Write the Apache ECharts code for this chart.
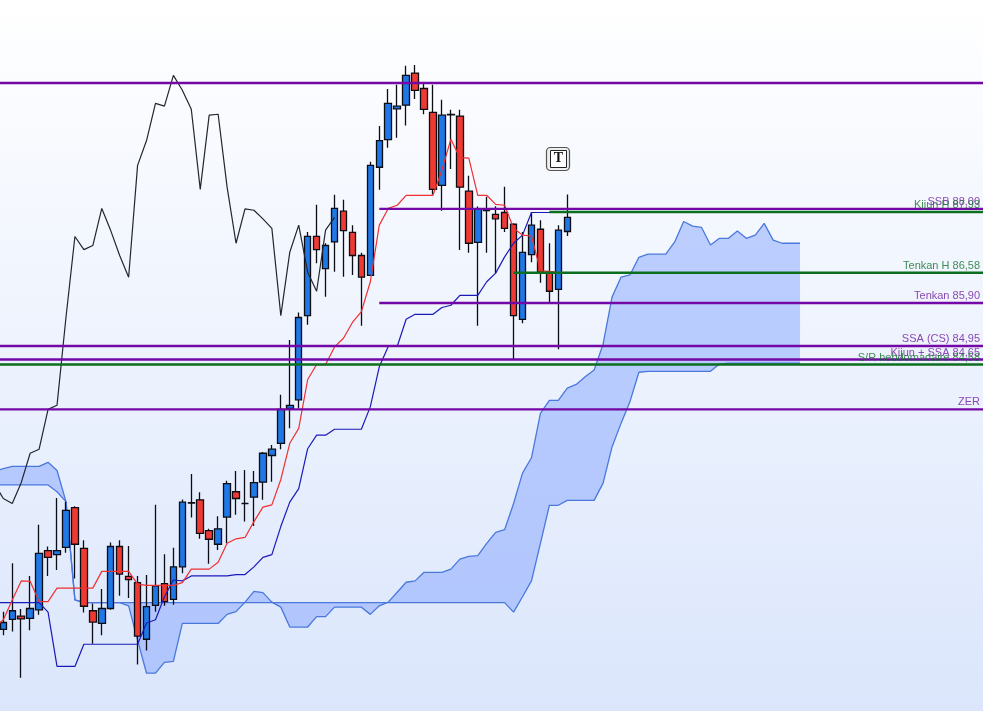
<!DOCTYPE html>
<html><head><meta charset="utf-8">
<script src="https://cdn.jsdelivr.net/npm/echarts@6/dist/echarts.min.js"></script>
<style>html,body{margin:0;padding:0;background:#fff}#c{width:983px;height:711px}</style>
</head><body><div id="c"></div>
<script>
// candles: open, close, low, high  (bar 0 .. 63)
const candles = [
[78.69,78.84,78.56,79.08],[78.91,79.10,78.64,80.15],[78.98,78.92,77.62,79.14],[78.93,79.15,78.67,79.87],
[79.12,80.37,79.01,81.00],[80.43,80.28,79.87,80.52],[80.34,80.43,80.00,81.59],[80.50,81.32,80.38,81.51],
[81.38,80.57,79.81,81.41],[80.48,79.20,79.06,80.66],[79.10,78.85,78.37,79.26],[78.82,79.15,78.56,79.58],
[79.15,80.52,79.12,80.61],[80.52,79.91,79.43,80.66],[79.86,79.79,79.38,80.53],[79.72,78.54,77.91,79.87],
[78.47,79.19,78.22,79.89],[79.22,79.65,79.08,81.44],[79.70,79.30,79.21,80.35],[79.35,80.07,79.23,80.49],
[80.07,81.50,79.93,81.56],[81.48,81.49,81.16,82.12],[81.55,80.81,80.69,81.72],[80.87,80.68,80.14,80.91],
[80.57,80.91,80.44,81.19],[81.17,81.91,80.59,81.97],[81.73,81.58,81.22,82.19],[81.47,81.47,81.07,82.21],
[81.61,81.93,80.97,82.19],[81.94,82.58,81.55,82.61],[82.53,82.67,81.95,82.76],[82.80,83.55,82.67,83.87],
[83.57,83.64,83.13,85.08],[83.76,85.58,83.57,85.69],[85.62,87.37,85.42,87.47],[87.37,87.08,86.78,88.07],
[86.66,87.17,86.04,87.22],[87.25,87.99,86.59,88.29],[87.93,87.50,86.48,88.18],[87.46,86.95,86.52,87.62],
[86.95,86.47,85.40,87.01],[86.51,88.94,86.50,89.02],[88.90,89.49,88.40,89.81],[89.51,90.31,89.33,90.63],
[90.19,90.25,89.55,90.72],[90.27,90.93,89.82,91.14],[90.98,90.60,90.41,91.16],[90.64,90.18,90.07,90.75],
[90.11,88.41,88.30,90.72],[88.50,90.05,87.94,90.39],[90.06,90.07,88.86,90.17],[90.03,88.46,87.07,90.17],
[88.37,87.22,87.01,88.71],[87.24,87.98,85.40,88.03],[87.94,87.95,87.01,88.25],[87.86,87.76,86.56,88.04],
[87.90,87.55,87.47,88.47],[87.64,85.62,84.66,87.66],[85.54,87.02,85.45,87.47],[86.97,87.62,86.80,87.91],
[87.53,86.58,86.35,87.73],[86.59,86.16,85.92,87.22],[86.20,87.51,84.88,87.62],[87.48,87.79,87.38,88.30]
];
// the lines below start one bar before the first candle
const tenkan = [78.72,78.90,79.34,79.76,79.75,79.30,79.30,79.60,79.60,79.60,79.60,79.60,79.97,79.97,79.97,79.97,79.69,79.66,79.66,79.66,79.66,79.72,80.02,80.02,80.02,80.17,80.59,80.69,80.72,81.07,81.39,81.44,82.00,82.80,83.13,84.21,84.54,84.54,84.93,85.12,85.47,85.71,86.37,87.62,87.99,88.06,88.28,88.28,88.28,88.28,88.84,89.52,89.11,89.10,88.28,88.28,88.08,88.06,87.55,87.40,87.38,86.61,86.60,86.57,86.57];
const kijun = [79.28,79.28,79.28,79.28,79.28,79.28,79.07,77.87,77.87,77.87,78.36,78.36,78.36,78.36,78.36,78.36,78.36,78.83,78.90,79.41,79.78,79.76,79.87,79.87,79.87,79.87,79.87,79.90,79.90,80.07,80.28,80.34,80.96,81.50,81.80,82.68,82.98,82.98,83.11,83.11,83.11,83.11,83.61,84.49,84.94,84.94,85.54,85.65,85.65,85.65,85.80,85.85,86.07,86.07,86.07,86.37,86.56,86.92,87.22,87.40,87.90,87.90,87.90,87.90,87.90];
const chikou = [81.91,81.58,81.47,81.93,82.58,82.67,83.55,83.64,85.58,87.37,87.08,87.17,87.99,87.50,86.95,86.47,88.94,89.49,90.31,90.25,90.93,90.60,90.18,88.41,90.05,90.07,88.46,87.22,87.98,87.95,87.76,87.55,85.62,87.02,87.62,86.58,86.16,87.51,87.79];
const senkouA = [82.18,82.24,82.29,82.29,82.29,82.29,82.38,82.20,81.51,79.34,79.28,79.28,79.28,79.28,79.28,79.21,78.45,77.72,77.72,77.96,77.98,78.82,78.82,78.82,78.82,78.82,79.02,79.08,79.29,79.53,79.50,79.29,79.18,78.74,78.74,78.74,78.97,78.97,79.18,79.18,79.18,79.18,79.02,79.21,79.29,79.51,79.73,79.76,79.95,79.95,79.95,80.02,80.24,80.30,80.32,80.59,80.83,80.89,81.47,82.14,82.48,83.46,83.75,83.75,84.02,84.10,84.27,84.42,84.99,86.03,86.47,86.52,86.91,86.98,86.98,86.98,87.25,87.70,87.60,87.57,87.18,87.33,87.33,87.49,87.33,87.40,87.66,87.29,87.22,87.22,87.22];
const senkouB = [81.88,81.88,81.88,81.88,81.88,81.88,81.88,81.73,81.51,79.34,79.28,79.28,79.28,79.28,79.28,79.28,79.28,79.28,79.28,79.28,79.28,79.28,79.28,79.28,79.28,79.28,79.28,79.28,79.28,79.28,79.28,79.28,79.28,79.28,79.28,79.28,79.28,79.28,79.28,79.28,79.28,79.28,79.28,79.28,79.28,79.28,79.28,79.28,79.28,79.28,79.28,79.28,79.28,79.28,79.28,79.28,79.28,79.28,79.07,79.41,79.76,80.59,81.43,81.43,81.54,81.54,81.54,81.54,81.92,82.72,83.24,83.72,84.37,84.39,84.39,84.39,84.39,84.39,84.39,84.39,84.39,84.55,84.57,84.57,84.57,84.57,84.57,84.57,84.57,84.57,84.57];
// horizontal levels: price, drawn from bar, text
const levelPrices = [90.76,87.98,87.91,86.57,85.90,84.95,84.65,84.54,83.55];
const levelStarts = [-1,42,61,57,42,-1,-1,-1,-1];
const levelTexts  = ['', 'SSB 88,00','Kijun H 87,93','Tenkan H 86,58','Tenkan 85,90','SSA (CS) 84,95','Kijun + SSA 84,65','S/R hebdomadaire 84,58','ZER'];
const levelKinds  = ['p','p','g','g','p','p','p','g','p'];

const PURPLE='#7408a6', GREEN='#0b6f1f', LABEL_BAR='109', LAST_BAR=110;
const categories=[]; for(let i=-1;i<=LAST_BAR;i++) categories.push(String(i));

const levelSeries = levelPrices.map((price,k)=>({
  type:'line',z:6,silent:true,symbol:'none',showSymbol:false,
  data:categories.map(c=>(+c<levelStarts[k]?null:price)),
  lineStyle:{color:levelKinds[k]==='p'?PURPLE:GREEN,width:2.4}
}));
const labelData = levelPrices.map((price,k)=>({
  value:[LABEL_BAR,price],
  label:{formatter:levelTexts[k],color:levelKinds[k]==='p'?'#6f1aa3':'#12702a'}
})).filter((d,k)=>levelTexts[k]);
const lineSeries=(data,color,z,w)=>({type:'line',data,z,silent:true,symbol:'none',showSymbol:false,lineStyle:{color,width:w}});

const chart=echarts.init(document.getElementById('c'),null,{renderer:'canvas'});
chart.setOption({
  animation:false,
  backgroundColor:{type:'linear',x:0,y:0,x2:0,y2:1,colorStops:[{offset:0,color:'#ffffff'},{offset:1,color:'#dbe6fc'}]},
  grid:{left:-10.126,top:0,width:1002.62,height:711,containLabel:false,outerBoundsMode:'none'},
  xAxis:{type:'category',data:categories,boundaryGap:true,show:false},
  yAxis:{type:'value',min:76.885,max:92.595,show:false,splitLine:{show:false}},
  tooltip:{show:false},
  series:[
    {type:'line',stack:'cloud',data:senkouA.map((a,i)=>Math.min(a,senkouB[i])),z:1,silent:true,symbol:'none',showSymbol:false,lineStyle:{width:0,opacity:0}},
    {type:'line',stack:'cloud',data:senkouA.map((a,i)=>Math.abs(a-senkouB[i])),z:1,silent:true,symbol:'none',showSymbol:false,lineStyle:{width:0,opacity:0},areaStyle:{color:'rgba(125,160,255,0.47)',opacity:1}},
    lineSeries(senkouA,'#4a78dc',2,1.3),
    lineSeries(senkouB,'#4a78dc',2,1.3),
    {type:'candlestick',data:[['-','-','-','-']].concat(candles),z:3,silent:true,barWidth:7,
      itemStyle:{color:'#1f78e6',color0:'#ee3a33',borderColor:'#0c0c14',borderColor0:'#0c0c14',borderColorDoji:'#0c0c14',borderWidth:1.3}},
    lineSeries(chikou,'#22262e',4,1.2),
    lineSeries(kijun,'#1a1ab8',4,1.2),
    lineSeries(tenkan,'#ee3030',4,1.2),
    ...levelSeries,
    {type:'scatter',z:7,silent:true,symbolSize:1,itemStyle:{color:'rgba(0,0,0,0)'},data:labelData,
      label:{show:true,position:'top',align:'right',distance:1,offset:[1,0],fontFamily:'Liberation Sans',fontSize:11}}
  ],
  graphic:[
    {type:'rect',z:20,shape:{x:546.5,y:147.5,width:23,height:23,r:4},style:{fill:'#eeeeee',stroke:'#555555',lineWidth:1.2}},
    {type:'rect',z:21,shape:{x:550.5,y:150.5,width:16,height:17},style:{fill:'#ffffff',stroke:'#222222',lineWidth:1}},
    {type:'text',z:22,x:558.5,y:158.5,style:{text:'T',fontFamily:'Liberation Serif',fontWeight:'bold',fontSize:14,fill:'#111',align:'center',verticalAlign:'middle'}}
  ]
});
</script></body></html>
